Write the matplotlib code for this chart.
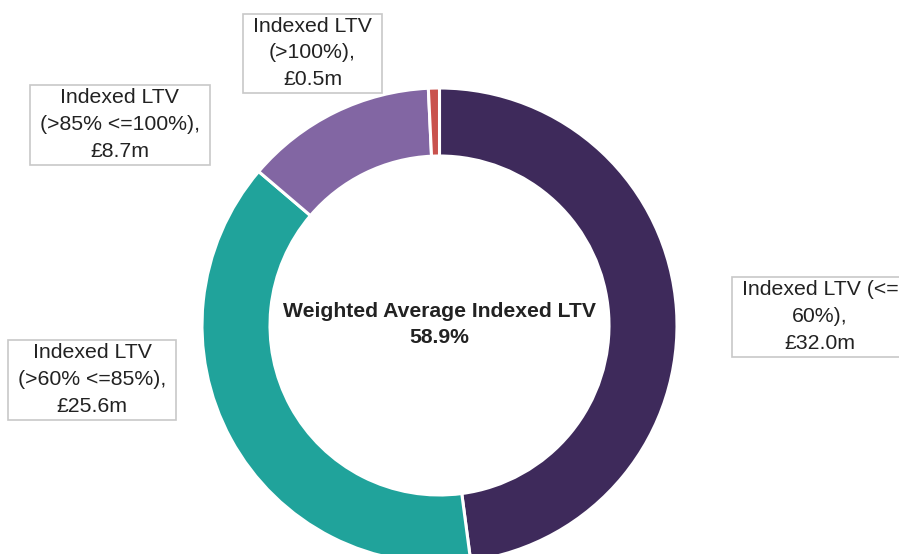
import matplotlib
matplotlib.use("Agg")
import matplotlib.pyplot as plt
from matplotlib.patches import Rectangle

# Indexed LTV buckets (GBP m), clockwise from the top
labels = [
    "Indexed LTV (<=\n60%),\n£32.0m",
    "Indexed LTV\n(>60% <=85%),\n£25.6m",
    "Indexed LTV\n(>85% <=100%),\n£8.7m",
    "Indexed LTV\n(>100%),\n£0.5m",
]
values = [32.0, 25.6, 8.7, 0.5]
colors = ["#3e2a5b", "#20a39b", "#8266a3", "#c9524d"]
weighted_avg = "58.9%"

# label box centres in pixel space (x from left, y from top)
label_pos = [(820, 316.5), (92, 379.5), (119.5, 124.5), (312.5, 53)]

W, H = 899, 554
plt.rcParams['font.family'] = ['Liberation Sans', 'DejaVu Sans']

fig = plt.figure(figsize=(W / 100, H / 100), dpi=100)
ax = fig.add_axes([0, 0, 1, 1])

cx, cy, r = 439.5, H - 325.5, 237.5
ax.pie(values, colors=colors, startangle=90, counterclock=False,
       center=(cx, cy), radius=r,
       wedgeprops=dict(width=68, edgecolor="white", linewidth=2.2))

ax.set_xlim(0, W)
ax.set_ylim(0, H)
ax.set_aspect("equal")
ax.axis("off")

# Popisky
texts = []
for text, (px, py) in zip(labels, label_pos):
    t = ax.text(px, H - py, text, ha="center", va="center", multialignment="center",
                fontsize=15.3, color="#222222", linespacing=1.52, zorder=5)
    texts.append(t)

ax.text(cx, H - 324.5, "Weighted Average Indexed LTV\n" + weighted_avg,
        ha="center", va="center", multialignment="center",
        fontsize=15.2, fontweight="bold", color="#222222", linespacing=1.5)

# Rámčeky okolo popiskov (data coords = pixels)
fig.canvas.draw()
renderer = fig.canvas.get_renderer()
for t in texts:
    bb = t.get_window_extent(renderer)
    ax.add_patch(Rectangle((bb.x0 - 10, bb.y0 - 4), bb.width + 20, bb.height + 7,
                           facecolor="white", edgecolor="#c8c8c8", linewidth=1.2,
                           zorder=4))

fig.savefig("out.png", dpi=100)
plt.close()
